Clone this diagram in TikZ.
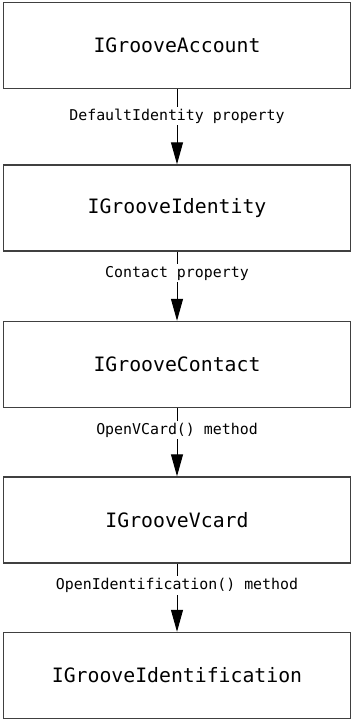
\documentclass[tikz,border=0pt]{standalone}
\usepackage{fontspec}
\setmonofont{DejaVu Sans Mono}
\usetikzlibrary{arrows.meta}

\begin{document}
\begin{tikzpicture}[x=1pt, y=1pt, >={Triangle[length=22pt,width=12pt]}, every node/.style={align=center}]
  \tikzset{ifbox/.style={draw=black!75, line width=1.4pt, minimum width=347pt, minimum height=86pt, inner sep=0pt, font=\ttfamily\fontsize{19.8}{22}\selectfont},
           rel/.style={fill=white, font=\ttfamily\fontsize{14.9}{17}\selectfont, inner sep=2pt}}
  \useasboundingbox (0,0) rectangle (353,723);
  \node[ifbox] (acct) at (177,677.5) {IGrooveAccount};
  \node[ifbox] (ident) at (177,515) {IGrooveIdentity};
  \node[ifbox] (contact) at (177,358.5) {IGrooveContact};
  \node[ifbox] (vcard) at (177,203) {IGrooveVcard};
  \node[ifbox] (identif) at (177,47.5) {IGrooveIdentification};
  \draw[->, line width=1pt] (acct) -- node[rel, pos=.36] {DefaultIdentity property} (ident);
  \draw[->, line width=1pt] (ident) -- node[rel, pos=.31] {Contact property} (contact);
  \draw[->, line width=1pt] (contact) -- node[rel, pos=.32] {OpenVCard() method} (vcard);
  \draw[->, line width=1pt] (vcard) -- node[rel, pos=.32] {OpenIdentification() method} (identif);
\end{tikzpicture}
\end{document}
